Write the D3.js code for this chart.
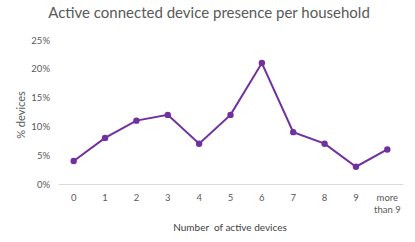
<!DOCTYPE html>
<html><head><meta charset="utf-8">
<script src="https://cdn.jsdelivr.net/npm/d3@7"></script>
<style>body{margin:0;background:#fff;}svg{display:block;}</style>
</head><body>
<svg id="c" width="415" height="242"></svg>
<script>
const categories = ["0","1","2","3","4","5","6","7","8","9","more than 9"];
const values = [4, 8, 11, 12, 7, 12, 21, 9, 7, 3, 6];
const yTicks = [0, 5, 10, 15, 20, 25];
const title = "Active connected device presence per household";
const xTitle = "Number  of active devices";
const yTitle = "% devices";

const font = "Lato, 'Open Sans', sans-serif";
const svg = d3.select("#c");
const m = {l:58, r:12, t:40, b:58};
const W = 415, H = 242;
const x = d3.scaleBand().domain(categories).range([m.l, W - m.r]);
const y = d3.scaleLinear().domain([0, 25]).range([H - m.b, m.t]);

svg.append("text").attr("x", 209).attr("y", 18).attr("text-anchor","middle")
  .attr("font-family", font).attr("font-size", 15).attr("fill","#595959").text(title);

const yAxis = svg.append("g").attr("transform", `translate(${m.l},0)`)
  .call(d3.axisLeft(y).tickValues(yTicks).tickFormat(d => d + "%").tickSize(0).tickPadding(8));
yAxis.select(".domain").remove();
yAxis.selectAll("text").attr("font-family", font).attr("font-size", 9.5).attr("fill","#595959");

const xAxis = svg.append("g").attr("transform", `translate(0,${y(0)})`)
  .call(d3.axisBottom(x).tickSize(0).tickPadding(10));
xAxis.select(".domain").attr("stroke","#d9d9d9").attr("stroke-width",1.2);
xAxis.selectAll("text").attr("font-family", font).attr("font-size", 9.5).attr("fill","#595959")
  .each(function(d){
    if (d === "more than 9") {
      const t = d3.select(this); t.text(null);
      t.append("tspan").attr("x",0).attr("dy","0.71em").text("more");
      t.append("tspan").attr("x",0).attr("dy","1.3em").text("than 9");
    }
  });

svg.append("text").attr("x", 230).attr("y", 231).attr("text-anchor","middle")
  .attr("font-family", font).attr("font-size", 10).attr("fill","#404040").attr("xml:space","preserve").text(xTitle);
svg.append("text").attr("transform", `translate(25,${(y(0)+y(25))/2 + 3}) rotate(-90)`).attr("text-anchor","middle")
  .attr("font-family", font).attr("font-size", 11).attr("fill","#595959").text(yTitle);

const cx = d => x(d) + x.bandwidth()/2;
const line = d3.line().x((d,i) => cx(categories[i])).y(d => y(d));
svg.append("path").datum(values).attr("d", line).attr("fill","none")
  .attr("stroke","#7030a0").attr("stroke-width",2);
svg.selectAll("circle.p").data(values).enter().append("circle").attr("class","p")
  .attr("cx",(d,i)=>cx(categories[i])).attr("cy",d=>y(d)).attr("r",3.2).attr("fill","#7030a0");
</script>
</body></html>
